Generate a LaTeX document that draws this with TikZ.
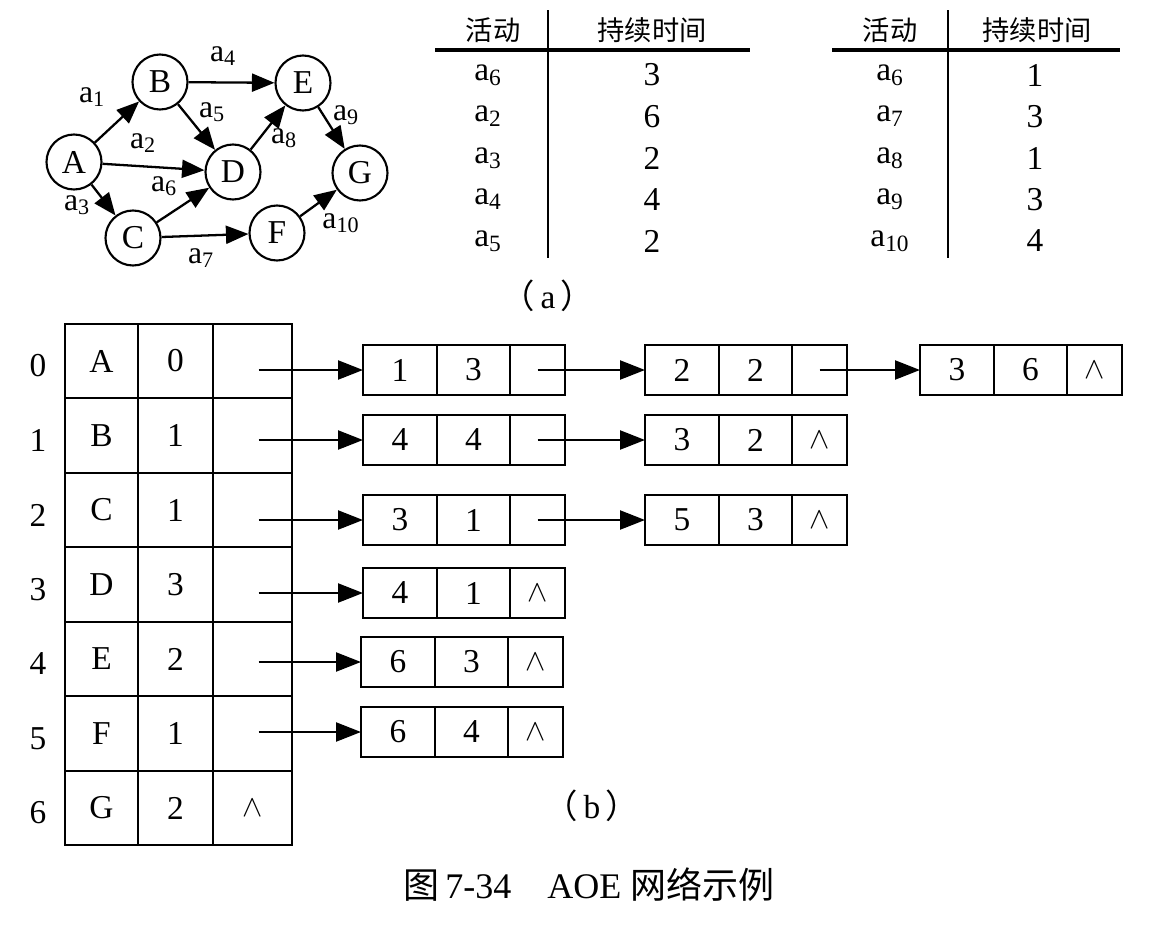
\documentclass[tikz,border=0pt]{standalone}
\usepackage{fontspec}
\setmainfont{Liberation Serif}
\newfontfamily\cjk{Noto Sans CJK SC}
\usetikzlibrary{positioning,arrows.meta}
\tikzset{
  vert/.style={circle,draw,line width=1.2pt,minimum size=11mm,inner sep=0pt,font=\fontsize{19}{19}\selectfont},
  arc/.style={-{Triangle[length=4.5mm,width=3.6mm]},line width=1.3pt},
  elab/.style={inner sep=0pt,font=\fontsize{18}{18}\selectfont},
  tab/.style={inner sep=0pt,font=\fontsize{19}{19}\selectfont},
  hd/.style={inner sep=0pt,font=\cjk\fontsize{15.5}{15.5}\selectfont},
  vc/.style={draw,line width=1.3pt,minimum height=14.9mm,inner sep=0pt,outer sep=0pt,font=\fontsize{19}{19}\selectfont},
  lc/.style={draw,line width=1.3pt,minimum height=10mm,inner sep=0pt,outer sep=0pt,font=\fontsize{19}{19}\selectfont},
  lv/.style={lc,minimum width=14.8mm},
  lw/.style={lc,minimum width=14.6mm},
  lp/.style={lc,minimum width=11mm},
  ptr/.style={-{Triangle[length=5mm,width=3.8mm]},line width=1.3pt},
}
\newcommand{\nil}{$\wedge$}

\begin{document}
\begin{tikzpicture}[x=0.2mm,y=-0.2mm]
  \useasboundingbox (0,0) rectangle (1176,935);
  % (a) the AOE network
  \node[vert] (A) at (74,162) {A};
  \node[vert] (B) at (160,82) {B};
  \node[vert] (C) at (133,238) {C};
  \node[vert] (D) at (233,172) {D};
  \node[vert] (E) at (303,83) {E};
  \node[vert] (F) at (277,233) {F};
  \node[vert] (G) at (360,173) {G};
  \draw[arc] (A) -- (B);
  \draw[arc] (A) -- (D);
  \draw[arc] (A) -- (C);
  \draw[arc] (B) -- (E);
  \draw[arc] (B) -- (D);
  \draw[arc] (C) -- (D);
  \draw[arc] (C) -- (F);
  \draw[arc] (D) -- (E);
  \draw[arc] (E) -- (G);
  \draw[arc] (F) -- (G);
  \node[elab] (a1) at (92,97) {a\textsubscript{1}};
  \node[elab] (a2) at (143,143) {a\textsubscript{2}};
  \node[elab] (a3) at (77,205) {a\textsubscript{3}};
  \node[elab] (a4) at (223,56) {a\textsubscript{4}};
  \node[elab] (a5) at (212,112) {a\textsubscript{5}};
  \node[elab] (a6) at (164,186) {a\textsubscript{6}};
  \node[elab] (a7) at (201,258) {a\textsubscript{7}};
  \node[elab] (a8) at (284,138) {a\textsubscript{8}};
  \node[elab] (a9) at (346,115) {a\textsubscript{9}};
  \node[elab] (a10) at (341,223) {a\textsubscript{10}};

  % duration tables
  \draw[line width=1.8pt] (435,50) -- (750,50);
  \draw[line width=1pt] (548,10) -- (548,258);
  \node[hd] (h1) at (493,30) {活动};
  \node[hd] (h2) at (652,30) {持续时间};
  \foreach \a/\t [count=\r from 0] in {6/3,2/6,3/2,4/4,5/2}{
    \node[tab] (p\r) at (488,{75+41.5*\r}) {a\textsubscript{\a}};
    \node[tab] (q\r) at (652,{75+41.5*\r}) {\t};
  }
  \draw[line width=1.8pt] (832,50) -- (1120,50);
  \draw[line width=1pt] (948,10) -- (948,258);
  \node[hd] (h3) at (890,30) {活动};
  \node[hd] (h4) at (1037,30) {持续时间};
  \foreach \a/\t [count=\r from 0] in {6/1,7/3,8/1,9/3,10/4}{
    \node[tab] (s\r) at (890,{75+41.5*\r}) {a\textsubscript{\a}};
    \node[tab] (u\r) at (1035,{75+41.5*\r}) {\t};
  }
  \node[tab] (capa) at (548,296) {{\cjk （}\,a\,{\cjk ）}};

  % (b) vertex table
  \foreach \v/\d [count=\r from 0] in {A/0,B/1,C/1,D/3,E/2,F/1,G/2}{
    \node[tab] (i\r) at (38,{366+74.5*\r}) {\r};
    \node[vc,minimum width=14.6mm] (v\r) at (101.5,{361+74.5*\r}) {\v};
    \node[vc,minimum width=15mm] (d\r) at (175.5,{361+74.5*\r}) {\d};
    \node[vc,minimum width=15.8mm] (f\r) at (252.5,{361+74.5*\r}) {};
  }
  \node[tab] (g6) at (f6) {\nil};

  % edge lists
  \node[lv] (l01v) at (400,370) {1};
  \node[lw,right=0pt of l01v] (l01w) {3};
  \node[lp,right=0pt of l01w] (l01p) {};
  \node[lv] (l02v) at (682,370) {2};
  \node[lw,right=0pt of l02v] (l02w) {2};
  \node[lp,right=0pt of l02w] (l02p) {};
  \node[lv] (l03v) at (957,370) {3};
  \node[lw,right=0pt of l03v] (l03w) {6};
  \node[lp,right=0pt of l03w] (l03p) {\nil};

  \node[lv] (l11v) at (400,440) {4};
  \node[lw,right=0pt of l11v] (l11w) {4};
  \node[lp,right=0pt of l11w] (l11p) {};
  \node[lv] (l12v) at (682,440) {3};
  \node[lw,right=0pt of l12v] (l12w) {2};
  \node[lp,right=0pt of l12w] (l12p) {\nil};

  \node[lv] (l21v) at (400,520) {3};
  \node[lw,right=0pt of l21v] (l21w) {1};
  \node[lp,right=0pt of l21w] (l21p) {};
  \node[lv] (l22v) at (682,520) {5};
  \node[lw,right=0pt of l22v] (l22w) {3};
  \node[lp,right=0pt of l22w] (l22p) {\nil};

  \node[lv] (l31v) at (400,593) {4};
  \node[lw,right=0pt of l31v] (l31w) {1};
  \node[lp,right=0pt of l31w] (l31p) {\nil};

  \node[lv] (l41v) at (398,662) {6};
  \node[lw,right=0pt of l41v] (l41w) {3};
  \node[lp,right=0pt of l41w] (l41p) {\nil};

  \node[lv] (l51v) at (398,732) {6};
  \node[lw,right=0pt of l51v] (l51w) {4};
  \node[lp,right=0pt of l51w] (l51p) {\nil};

  \foreach \r in {0,...,5}
    \draw[ptr] ([xshift=1.2mm]f\r.center |- l\r1v.west) -- (l\r1v.west);
  \draw[ptr] (l01p.center) -- (l02v.west);
  \draw[ptr] (l02p.center) -- (l03v.west);
  \draw[ptr] (l11p.center) -- (l12v.west);
  \draw[ptr] (l21p.center) -- (l22v.west);

  \node[tab] (capb) at (592,806) {{\cjk （}\,b\,{\cjk ）}};
  \node[tab,font=\fontsize{20.5}{20.5}\selectfont] (cap) at (589,885) {{\cjk 图}\,7-34\quad AOE {\cjk 网络示例}};
\end{tikzpicture}
\end{document}
